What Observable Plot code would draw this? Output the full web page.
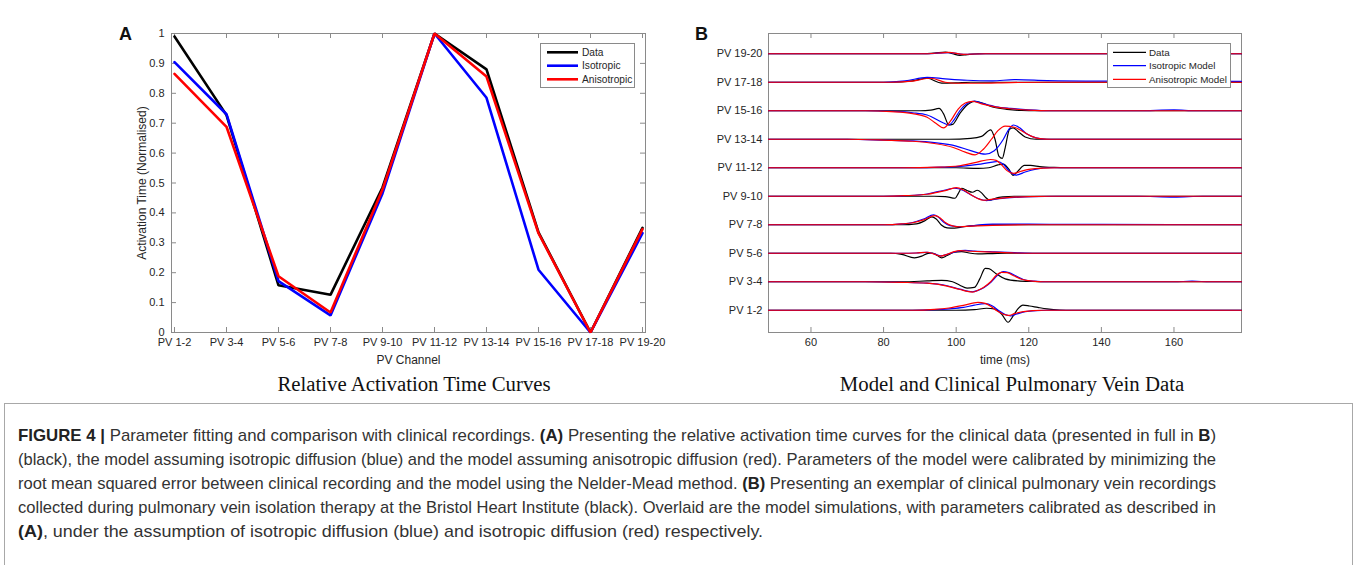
<!DOCTYPE html>
<html><head><meta charset="utf-8">
<script src="https://cdn.jsdelivr.net/npm/d3@7"></script>
<script src="https://cdn.jsdelivr.net/npm/@observablehq/plot@0.6"></script>
<style>
body{margin:0;background:#fff;}
#root{position:relative;width:1357px;height:565px;overflow:hidden;background:#fff;font-family:"Liberation Sans",Arial,Helvetica,sans-serif;}
.abs{position:absolute;}
.title{position:absolute;font-family:"Liberation Serif","Times New Roman",serif;color:#111;white-space:nowrap;font-size:20.8px;line-height:22px;transform:translate(-50%,-50%);}
.cap{position:absolute;left:18px;white-space:nowrap;font-family:"Liberation Sans Narrow","Liberation Sans",Arial,sans-serif;font-size:17px;line-height:24px;height:24px;color:#333;transform-origin:0 50%;}
.cap b{font-weight:bold;color:#222;}
#capbox{position:absolute;left:4px;top:403px;width:1347px;height:200px;border:1px solid #a8a8a8;}
</style></head><body>
<div id="root">
  <div id="panelA" class="abs" style="left:0;top:0"></div>
  <div id="panelB" class="abs" style="left:680px;top:0"></div>
  <div class="title" id="titleA" style="left:414px;top:384px">Relative Activation Time Curves</div>
  <div class="title" id="titleB" style="left:1012px;top:384px">Model and Clinical Pulmonary Vein Data</div>
  <div id="capbox"></div>
  <div class="cap" style="top:424px"><b>FIGURE 4 |</b> Parameter fitting and comparison with clinical recordings. <b>(A)</b> Presenting the relative activation time curves for the clinical data (presented in full in <b>B</b>)</div>
  <div class="cap" style="top:448px">(black), the model assuming isotropic diffusion (blue) and the model assuming anisotropic diffusion (red). Parameters of the model were calibrated by minimizing the</div>
  <div class="cap" style="top:472px">root mean squared error between clinical recording and the model using the Nelder-Mead method. <b>(B)</b> Presenting an exemplar of clinical pulmonary vein recordings</div>
  <div class="cap" style="top:496px">collected during pulmonary vein isolation therapy at the Bristol Heart Institute (black). Overlaid are the model simulations, with parameters calibrated as described in</div>
  <div class="cap" style="top:520px" data-w="745"><b>(A)</b>, under the assumption of isotropic diffusion (blue) and isotropic diffusion (red) respectively.</div>
  <svg id="overlay" class="abs" style="left:0;top:0" width="1357" height="400"></svg>
</div>
<script>
// ---------------- Panel A data ----------------
const pvChannels = ["PV 1-2","PV 3-4","PV 5-6","PV 7-8","PV 9-10","PV 11-12","PV 13-14","PV 15-16","PV 17-18","PV 19-20"];
const actData  = [0.99, 0.727, 0.158, 0.126, 0.485, 1.0, 0.88, 0.335, 0, 0.35];
const actIso   = [0.904, 0.73, 0.172, 0.057, 0.465, 1.0, 0.785, 0.21, 0, 0.332];
const actAniso = [0.865, 0.688, 0.188, 0.067, 0.478, 1.0, 0.856, 0.332, 0, 0.346];
const yTicksA = [0, 0.1, 0.2, 0.3, 0.4, 0.5, 0.6, 0.7, 0.8, 0.9, 1];
const seriesNamesA = ["Data", "Isotropic", "Anisotropic"];
const seriesNamesB = ["Data", "Isotropic Model", "Anisotropic Model"];
const seriesColors = ["#000000", "#0000ff", "#ff0000"];

// ---------------- Panel B data (time ms, amplitude) per channel, in pvChannels order ----------------
const timeDomainB = [48.3, 178.6];
const timeTicksB = [60, 80, 100, 120, 140, 160];
const traceData = [
  [[48.3,0],[100,0],[105,0.02],[108.4,0.07],[110.5,0.05],[112.5,-0.13],[114.3,-0.42],[115.7,-0.2],[117,0.05],[118.4,0.18],[120.2,0.15],[122.5,0.1],[125,0.05],[128.5,0.01],[132,0],[178.6,0]],
  [[48.3,0],[85,0],[92,0.03],[96,0.05],[99,0],[101,-0.12],[103,-0.22],[105,-0.2],[106.5,0.1],[108,0.47],[109,0.46],[111,0.28],[113.5,0.1],[117,0.03],[121,0.01],[125,0],[178.6,0]],
  [[48.3,0],[82,0],[85,-0.04],[88.5,-0.16],[90.5,-0.1],[92,-0.01],[93.5,0.01],[94.8,-0.08],[96,-0.16],[97.5,-0.08],[99.5,0.04],[101.5,0.06],[104,0],[106,-0.02],[110,-0.01],[114,0],[178.6,0]],
  [[48.3,0],[85,0],[89,0.03],[91.5,0.15],[93.3,0.28],[94.5,0.2],[96,-0.02],[97.5,-0.11],[99.5,-0.12],[102,-0.07],[105,-0.03],[110,0],[178.6,0]],
  [[48.3,0],[94,0],[97,-0.01],[99.7,-0.07],[100.6,0.1],[101.5,0.28],[103,0.2],[104.5,0.14],[105.8,0.21],[107,0.12],[108.2,-0.05],[109.3,-0.14],[111,-0.06],[113,-0.02],[116,0],[178.6,0]],
  [[48.3,0],[100,0],[106,-0.02],[109,0],[111.5,0.1],[113,0.13],[114.5,-0.05],[115.7,-0.27],[117,-0.12],[118.8,0.08],[120.5,0.08],[123,0.04],[127,0.01],[130,0],[178.6,0]],
  [[48.3,0],[98,0],[104,0.03],[107,0.1],[109.5,0.33],[110.7,0],[111.8,-0.6],[112.7,-0.67],[113.5,-0.3],[114.7,0.35],[115.7,0.4],[117,0.28],[119,0.08],[122,0],[178.6,0]],
  [[48.3,0],[90,0],[93,0.02],[95.3,0.08],[96.5,-0.1],[98,-0.5],[99,-0.48],[101,-0.1],[103,0.2],[105,0.33],[107,0.28],[110,0.13],[114,0.05],[118,0.01],[122,0],[178.6,0]],
  [[48.3,0],[82,0],[88,0.05],[92,0.14],[96,-0.03],[100,-0.02],[104,0],[178.6,0]],
  [[48.3,0],[90,0],[94,0.02],[97,0.06],[99,0],[101,-0.06],[103,-0.03],[106,0],[178.6,0]]
];
const traceIso = [
  [[48.3,0],[88,0],[94,0.02],[98,0.05],[102,0.1],[105,0.18],[108,0.23],[110,0.15],[111.8,-0.02],[113.5,-0.15],[115,-0.2],[116.5,-0.14],[119,-0.05],[122,-0.01],[125,0],[178.6,0]],
  [[48.3,0],[75,0],[85,-0.02],[92,-0.05],[97.5,-0.14],[101,-0.26],[104.5,-0.35],[106,-0.3],[107.7,-0.2],[109.7,0],[111.3,0.22],[113,0.36],[114.5,0.32],[116.5,0.2],[118.5,0.08],[121.5,0.02],[125,0],[160,0],[165,0.02],[170,0],[178.6,0]],
  [[48.3,0],[85,0],[89,0.01],[92,0.03],[94,-0.02],[95.8,-0.09],[97.5,-0.04],[100,0.06],[102.5,0.1],[105,0.08],[110,0.05],[116,0.02],[122,0],[178.6,0]],
  [[48.3,0],[80,0],[85,0.03],[88,0.08],[91,0.2],[93.8,0.35],[95,0.28],[96.5,0.1],[98.3,-0.03],[101,-0.07],[104,-0.04],[110,0.02],[120,0.02],[140,0.01],[178.6,0]],
  [[48.3,0],[80,0],[86,0.02],[92,0.08],[97,0.22],[99.5,0.28],[102,0.2],[104,0.05],[106,-0.08],[108.4,-0.15],[111,-0.1],[115,-0.05],[121,-0.01],[128,0],[150,0],[160,-0.03],[168,0],[178.6,0]],
  [[48.3,0],[88,0],[96,0.02],[102,0.06],[106,0.12],[110,0.2],[111.5,0.22],[113,0.12],[114.5,-0.1],[116.5,-0.26],[119,-0.15],[122,-0.05],[126,0],[178.6,0]],
  [[48.3,0],[70,0],[80,-0.03],[88,-0.06],[94,-0.12],[100,-0.24],[104,-0.4],[108,-0.52],[110.5,-0.4],[113,0],[114.5,0.35],[115.8,0.5],[117.5,0.4],[119.5,0.18],[122,0.05],[125,0],[178.6,0]],
  [[48.3,0],[75,0],[82,-0.02],[88,-0.07],[92,-0.15],[96.5,-0.43],[98,-0.5],[99.5,-0.3],[101,0],[103,0.25],[105,0.34],[107.5,0.25],[111,0.14],[115,0.08],[120,0.03],[126,0],[150,0],[160,0.03],[166,0],[178.6,0]],
  [[48.3,0],[80,0],[86,0.05],[92,0.17],[97,0.12],[103,0.07],[110,0.05],[116,0.09],[125,0.06],[140,0.04],[178.6,0.03]],
  [[48.3,0],[92,0],[98,0.04],[102,-0.02],[108,0],[178.6,0]]
];
const traceAniso = [
  [[48.3,0],[88,0],[94,0.03],[98,0.08],[102,0.17],[106,0.28],[108,0.24],[109.5,0.14],[111.2,-0.02],[113,-0.14],[114.5,-0.18],[116,-0.12],[118.5,-0.05],[121,-0.01],[124,0],[178.6,0]],
  [[48.3,0],[75,0],[85,-0.02],[92,-0.05],[97.5,-0.15],[101,-0.27],[104.5,-0.36],[106,-0.3],[107.5,-0.2],[109.5,0],[111,0.22],[112.5,0.33],[114,0.32],[116,0.2],[118,0.09],[121,0.02],[124,0],[178.6,0]],
  [[48.3,0],[85,0],[89,0.01],[92,0.035],[94,-0.03],[95.7,-0.1],[97.5,-0.04],[99.5,0.06],[101,0.09],[104,0.07],[110,0.04],[116,0.01],[122,0],[178.6,0]],
  [[48.3,0],[80,0],[85,0.03],[88,0.07],[91,0.17],[94.2,0.32],[95.5,0.25],[97,0.08],[99,-0.04],[101,-0.07],[104,-0.05],[110,-0.02],[120,0],[178.6,0]],
  [[48.3,0],[80,0],[86,0.02],[92,0.07],[97,0.2],[100,0.3],[102,0.22],[104,0.06],[105.8,-0.07],[107.5,-0.14],[110,-0.1],[114,-0.05],[120,-0.01],[126,0],[178.6,0]],
  [[48.3,0],[85,0],[95,0.02],[101,0.07],[105.5,0.19],[109.5,0.29],[111,0.26],[112.5,0.1],[114,-0.1],[115.7,-0.2],[118,-0.12],[120,-0.06],[124,-0.01],[128,0],[178.6,0]],
  [[48.3,0],[70,0],[80,-0.03],[88,-0.07],[94,-0.15],[99,-0.28],[102.5,-0.45],[105.2,-0.55],[107.5,-0.35],[109.7,0],[111.5,0.3],[113.5,0.46],[116,0.42],[118,0.3],[120.5,0.12],[123,0.02],[126,0],[178.6,0]],
  [[48.3,0],[75,0],[82,-0.03],[88,-0.1],[92,-0.23],[94.5,-0.45],[96.5,-0.6],[98.5,-0.35],[100.5,0.05],[102.5,0.27],[104.5,0.33],[107,0.24],[111,0.13],[115,0.07],[120,0.02],[126,0],[178.6,0]],
  [[48.3,0],[82,0],[88,0.04],[93,0.14],[97,0],[100,-0.035],[106,-0.035],[115,-0.01],[125,0],[178.6,0]],
  [[48.3,0],[92,0],[98,0.05],[102,-0.02],[108,0],[178.6,0]]
];

const frameColor = "#8a8a8a";
const textColor = "#262626";
const fontStack = "'Liberation Sans', Arial, Helvetica, sans-serif";

// ---------------- Panel A ----------------
const rowsA = [];
[actData, actIso, actAniso].forEach((arr, s) => arr.forEach((v, i) => rowsA.push({s, ch: pvChannels[i], v})));

const plotA = Plot.plot({
  width: 680, height: 400,
  marginLeft: 171, marginRight: 35, marginTop: 33, marginBottom: 68,
  style: {fontFamily: fontStack, fontSize: "11px", color: textColor, background: "transparent", overflow: "visible"},
  x: {type: "point", domain: pvChannels, padding: 0, label: null, tickSize: 0, tickPadding: 6},
  y: {domain: [0, 1], ticks: yTicksA, tickFormat: d => String(+d.toFixed(1)), label: null, tickSize: 0, tickPadding: 7},
  marks: [
    Plot.tickX(pvChannels, {x: d => d, insetBottom: 294, stroke: frameColor}),
    Plot.tickX(pvChannels, {x: d => d, insetTop: 294, stroke: frameColor}),
    Plot.tickY(yTicksA, {y: d => d, insetLeft: 469, stroke: frameColor}),
    Plot.tickY(yTicksA, {y: d => d, insetRight: 469, stroke: frameColor}),
    Plot.frame({stroke: frameColor}),
    ...[0, 1, 2].map(s => Plot.line(rowsA.filter(r => r.s === s), {x: "ch", y: "v", stroke: seriesColors[s], strokeWidth: 2.6, strokeLinejoin: "miter"})),
    Plot.text(["PV Channel"], {frameAnchor: "bottom", dy: 28, textAnchor: "middle", lineAnchor: "middle", text: d => d, fontSize: 12, fill: textColor}),
    Plot.text(["Activation Time (Normalised)"], {frameAnchor: "left", dx: -29, rotate: -90, textAnchor: "middle", lineAnchor: "middle", text: d => d, fontSize: 12, fill: textColor})
  ]
});
document.getElementById("panelA").appendChild(plotA);

// ---------------- Panel B ----------------
const rowsB = [];
[traceData, traceIso, traceAniso].forEach((set, s) => set.forEach((pts, ch) => pts.forEach(([t, v]) => rowsB.push({s, ch, t, v}))));
const channelIdx = pvChannels.map((_, i) => i);

const plotB = Plot.plot({
  width: 677, height: 400,
  marginLeft: 88, marginRight: 116, marginTop: 33, marginBottom: 68,
  style: {fontFamily: fontStack, fontSize: "11px", color: textColor, background: "transparent", overflow: "visible"},
  x: {domain: timeDomainB, ticks: timeTicksB, label: null, tickSize: 0, tickPadding: 6},
  y: {domain: [-0.78, 9.71], ticks: channelIdx, tickFormat: i => pvChannels[i], label: null, tickSize: 0, tickPadding: 6},
  marks: [
    Plot.tickX(timeTicksB, {x: d => d, insetBottom: 294, stroke: frameColor}),
    Plot.tickX(timeTicksB, {x: d => d, insetTop: 294, stroke: frameColor}),
    Plot.frame({stroke: frameColor}),
    ...[0, 1, 2].map(s => Plot.line(rowsB.filter(r => r.s === s), {x: "t", y: d => d.ch + d.v, z: "ch", stroke: seriesColors[s], strokeWidth: 1.2, curve: "monotone-x"})),
    Plot.text(["time (ms)"], {frameAnchor: "bottom", dy: 28, textAnchor: "middle", lineAnchor: "middle", text: d => d, fontSize: 12, fill: textColor})
  ]
});
document.getElementById("panelB").appendChild(plotB);

// ---------------- Legends & panel letters ----------------
const ov = d3.select("#overlay");
function legend(x0, y0, w, h, names, sw, fs, lineX1, lineX2, textX, rowsY) {
  const g = ov.append("g");
  g.append("rect").attr("x", x0 + 0.5).attr("y", y0 + 0.5).attr("width", w).attr("height", h)
    .attr("fill", "#fff").attr("stroke", "#8a8a8a");
  names.forEach((n, i) => {
    g.append("line").attr("x1", lineX1).attr("x2", lineX2).attr("y1", rowsY[i]).attr("y2", rowsY[i])
      .attr("stroke", seriesColors[i]).attr("stroke-width", sw);
    g.append("text").attr("x", textX).attr("y", rowsY[i]).attr("dy", "0.35em")
      .attr("font-family", fontStack).attr("font-size", fs).attr("fill", textColor).text(n);
  });
}
legend(540, 43, 94, 44, seriesNamesA, 2.6, 10.2, 547, 578, 582, [52.3, 65.7, 79.3]);
legend(1107, 43, 123, 44, seriesNamesB, 1.2, 9.8, 1113, 1146, 1149, [52.3, 65.7, 79.3]);
[["A", 125.5], ["B", 701.5]].forEach(([t, x]) => {
  ov.append("text").attr("x", x).attr("y", 34).attr("dy", "0.36em").attr("text-anchor", "middle")
    .attr("font-family", fontStack).attr("font-weight", "bold").attr("font-size", 18).attr("fill", "#111").text(t);
});

// ---------------- Fit caption lines ----------------
function fit() {
  document.querySelectorAll(".cap").forEach(el => {
    el.style.transform = "none";
    const target = +(el.dataset.w || 1198);
    const w = el.getBoundingClientRect().width;
    if (w > 0) el.style.transform = `scaleX(${target / w})`;
  });
}
fit();
if (document.fonts && document.fonts.ready) document.fonts.ready.then(fit);
</script>
</body></html>
